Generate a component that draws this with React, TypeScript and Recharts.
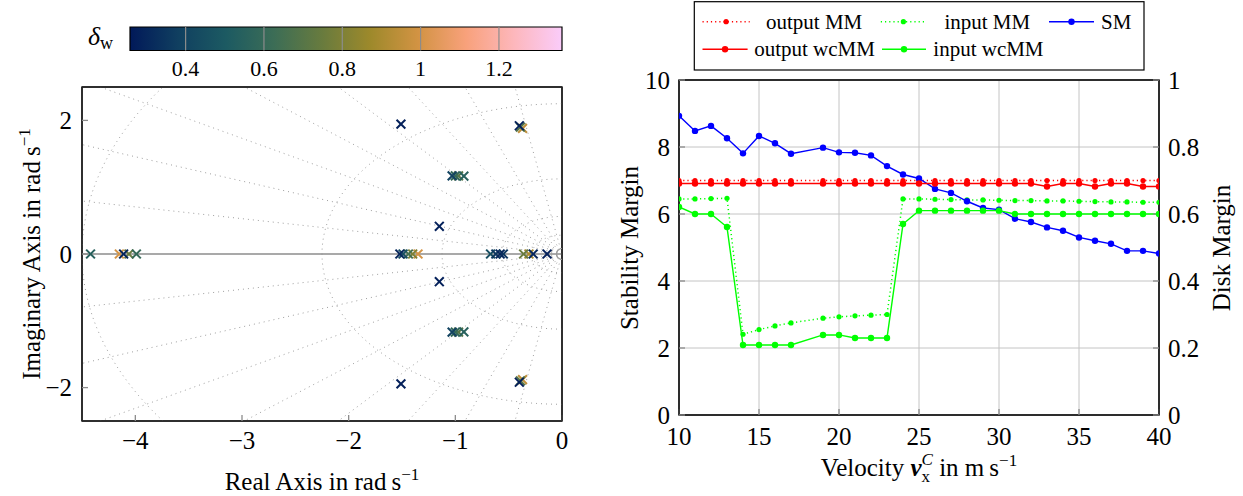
import React from 'react';
import { ComposedChart, Line, Scatter, XAxis, YAxis, CartesianGrid, ReferenceLine, ReferenceArea } from 'recharts';

const SERIF = "'Liberation Serif', 'Times New Roman', serif";

// ---------------- right panel data ----------------
const velocity = [10, 11, 12, 13, 14, 15, 16, 17, 19, 20, 21, 22, 23, 24, 25, 26, 27, 28, 29, 30, 31, 32, 33, 34, 35, 36, 37, 38, 39, 40];
const smValues = [8.93, 8.48, 8.63, 8.26, 7.81, 8.33, 8.11, 7.8, 7.98, 7.84, 7.83, 7.75, 7.43, 7.18, 7.06, 6.75, 6.63, 6.38, 6.18, 6.13, 5.86, 5.76, 5.6, 5.5, 5.3, 5.2, 5.11, 4.9, 4.9, 4.82];
const outputMM = [0.7, 0.7, 0.7, 0.7, 0.7, 0.7, 0.7, 0.7, 0.7, 0.7, 0.7, 0.7, 0.7, 0.7, 0.7, 0.7, 0.7, 0.7, 0.7, 0.7, 0.7, 0.7, 0.7, 0.7, 0.7, 0.7, 0.7, 0.7, 0.7, 0.7];
const inputMM = [0.645, 0.645, 0.646, 0.647, 0.241, 0.255, 0.266, 0.275, 0.289, 0.293, 0.296, 0.298, 0.3, 0.645, 0.645, 0.644, 0.643, 0.642, 0.642, 0.641, 0.64, 0.64, 0.639, 0.639, 0.638, 0.637, 0.636, 0.636, 0.635, 0.635];
const outputWcMM = [0.691, 0.691, 0.691, 0.691, 0.691, 0.691, 0.691, 0.691, 0.691, 0.691, 0.691, 0.691, 0.691, 0.691, 0.691, 0.691, 0.691, 0.691, 0.691, 0.691, 0.691, 0.691, 0.682, 0.691, 0.691, 0.682, 0.691, 0.691, 0.682, 0.682];
const inputWcMM = [0.621, 0.6, 0.6, 0.561, 0.209, 0.209, 0.209, 0.209, 0.239, 0.239, 0.23, 0.23, 0.23, 0.57, 0.61, 0.61, 0.61, 0.61, 0.61, 0.61, 0.6, 0.6, 0.6, 0.6, 0.6, 0.6, 0.6, 0.6, 0.6, 0.6];
const velocityTicks = [10, 15, 20, 25, 30, 35, 40];
const stabilityTicks = [0, 2, 4, 6, 8, 10];
const diskTicks = [0, 0.2, 0.4, 0.6, 0.8, 1];

// ---------------- left panel data ----------------
const realTicks = [-4, -3, -2, -1, 0];
const imagTicks = [-2, 0, 2];
const realRange = [-4.5, 0];
const imagRange = [-2.5, 2.5];
const deltaTicks = [0.4, 0.6, 0.8, 1, 1.2];
const deltaRange = [0.258, 1.361];
const poleRe = [-4.42, -4.15, -4.11, -4.06, -3.99, -1.52, -1.49, -1.44, -1.4, -1.35, -0.67, -0.62, -0.58, -0.55, -0.36, -0.31, -0.27, -0.14,
  -1.51, -1.51, -0.37, -0.37, -0.39, -0.39, -0.4, -0.4, -1.03, -1.03, -1.0, -1.0, -0.97, -0.97, -0.92, -0.92, -1.15, -1.15];
const poleIm = [0, 0, 0, 0, 0, 0, 0, 0, 0, 0, 0, 0, 0, 0, 0, 0, 0, 0,
  1.945, -1.945, 1.88, -1.88, 1.9, -1.9, 1.92, -1.92, 1.17, -1.17, 1.17, -1.17, 1.17, -1.17, 1.165, -1.165, 0.415, -0.415];
const poleDelta = [0.55, 1.0, 0.3, 0.75, 0.6, 0.3, 0.45, 0.65, 0.8, 1.0, 0.45, 0.35, 0.3, 0.35, 0.75, 0.9, 0.3, 0.28,
  0.28, 0.28, 0.95, 0.95, 0.7, 0.7, 0.28, 0.28, 0.4, 0.4, 0.6, 0.6, 0.7, 0.7, 0.55, 0.55, 0.28, 0.28];
const zeroRe = [0];
const zeroIm = [0];
const gridAnglesDeg = [10, 20, 30, 40, 50, 60, 70, 80];
const gridRadii = [4.5, 2.25, 1.125, 0.5625, 0.28125];

// ---------------- styling helpers ----------------
const BATLOW = ['#011959', '#103F60', '#1C5A62', '#3C6D56', '#687B3E', '#9D892B', '#D29343', '#F8A17B', '#FDB7BC', '#FACCFA'];
function hexToRgb(h: string) {
  return [parseInt(h.slice(1, 3), 16), parseInt(h.slice(3, 5), 16), parseInt(h.slice(5, 7), 16)];
}
function batlow(d: number) {
  let t = (d - deltaRange[0]) / (deltaRange[1] - deltaRange[0]);
  t = Math.max(0, Math.min(1, t));
  const p = t * (BATLOW.length - 1);
  const i = Math.min(BATLOW.length - 2, Math.floor(p));
  const f = p - i;
  const a = hexToRgb(BATLOW[i]);
  const b = hexToRgb(BATLOW[i + 1]);
  const c = a.map((v, k) => Math.round(v + (b[k] - v) * f));
  return `rgb(${c[0]},${c[1]},${c[2]})`;
}

const rows = velocity.map((v, i) => ({ v, sm: smValues[i], outMM: outputMM[i], inMM: inputMM[i], outWc: outputWcMM[i], inWc: inputWcMM[i] }));
const poles = poleRe.map((x, i) => ({ x, y: poleIm[i], d: poleDelta[i] })).sort((a, b) => b.d - a.d);
const zeros = zeroRe.map((x, i) => ({ x, y: zeroIm[i] }));
const frameData = [{ x: realRange[0], y: imagRange[0] }, { x: realRange[1], y: imagRange[1] }];
const rayLines = gridAnglesDeg.flatMap((a) => {
  const r = (a * Math.PI) / 180;
  return [
    [{ x: 0, y: 0 }, { x: -7 * Math.cos(r), y: 7 * Math.sin(r) }],
    [{ x: 0, y: 0 }, { x: -7 * Math.cos(r), y: -7 * Math.sin(r) }],
  ];
});
const circleLines = gridRadii.map((rad) => {
  const pts = [];
  for (let k = -90; k <= 90; k += 2) {
    const p = (k * Math.PI) / 180;
    pts.push({ x: -rad * Math.cos(p), y: rad * Math.sin(p) });
  }
  return pts;
});
const barData = [{ x: deltaRange[0], y: 0 }, { x: deltaRange[1], y: 1 }];

const Cross = (props: any) => {
  const { cx, cy, payload } = props;
  if (cx == null || cy == null) return null;
  const s = 4.4;
  return (
    <g stroke={batlow(payload.d)} strokeWidth={2}>
      <line x1={cx - s} y1={cy - s} x2={cx + s} y2={cy + s} />
      <line x1={cx - s} y1={cy + s} x2={cx + s} y2={cy - s} />
    </g>
  );
};
const ZeroMark = (props: any) => {
  const { cx, cy } = props;
  if (cx == null || cy == null) return null;
  return <circle cx={cx} cy={cy} r={5.5} fill="none" stroke="#999" strokeWidth={1.2} />;
};

const tickStyle = { fontSize: 25, fill: '#000', fontFamily: SERIF };
const AX = '#222';
const TK = '#8c8c8c';
const fmt = (v: number) => (v < 0 ? '\u2212' + Math.abs(v) : String(v));

function PoleMap() {
  return (
    <ComposedChart width={600} height={496} margin={{ top: 86, right: 37, bottom: 45, left: 0 }}>
      <XAxis dataKey="x" type="number" domain={realRange} ticks={realTicks} allowDataOverflow tickFormatter={fmt}
        tick={tickStyle} tickSize={-6} tickMargin={16} tickLine={{ stroke: TK, strokeWidth: 1.3 }} axisLine={{ stroke: AX, strokeWidth: 1.5 }} height={30} />
      <XAxis xAxisId="top" orientation="top" dataKey="x" type="number" domain={realRange} ticks={realTicks} allowDataOverflow tick={false}
        tickSize={-6} tickLine={{ stroke: TK, strokeWidth: 1.3 }} axisLine={{ stroke: AX, strokeWidth: 1.5 }} height={1} />
      <YAxis dataKey="y" type="number" domain={imagRange} ticks={imagTicks} allowDataOverflow tickFormatter={fmt}
        tick={tickStyle} tickSize={-6} tickMargin={16} tickLine={{ stroke: TK, strokeWidth: 1.3 }} axisLine={{ stroke: AX, strokeWidth: 1.5 }} width={82} />
      <YAxis yAxisId="r" orientation="right" dataKey="y" type="number" domain={imagRange} ticks={imagTicks} allowDataOverflow tick={false}
        tickSize={-6} tickLine={{ stroke: TK, strokeWidth: 1.3 }} axisLine={{ stroke: AX, strokeWidth: 1.5 }} width={1} />
      {rayLines.map((pts, i) => (
        <Line key={'ray' + i} data={pts} dataKey="y" stroke="#a0a0a0" strokeWidth={1} strokeDasharray="1 4" dot={false} activeDot={false} isAnimationActive={false} />
      ))}
      {circleLines.map((pts, i) => (
        <Line key={'circ' + i} data={pts} dataKey="y" stroke="#a0a0a0" strokeWidth={1} strokeDasharray="1 4" dot={false} activeDot={false} isAnimationActive={false} />
      ))}
      <Line xAxisId="top" yAxisId="r" data={frameData} dataKey="y" stroke="none" dot={false} activeDot={false} isAnimationActive={false} />
      <ReferenceLine y={0} stroke="#8c8c8c" strokeWidth={1.3} />
      <ReferenceArea x1={realRange[0]} x2={realRange[1]} y1={imagRange[0]} y2={imagRange[1]} fill="none" stroke={AX} strokeWidth={1.5} />
      <Scatter data={zeros} shape={ZeroMark} isAnimationActive={false} />
      <Scatter data={poles} shape={Cross} isAnimationActive={false} />
    </ComposedChart>
  );
}

function ColorBar() {
  return (
    <ComposedChart width={600} height={100} data={barData} margin={{ top: 27, right: 38, bottom: 19.5, left: 130 }}>
      <XAxis dataKey="x" type="number" domain={deltaRange} ticks={deltaTicks} allowDataOverflow tick={{ ...tickStyle, fontSize: 22 }}
        tickLine={false} axisLine={false} tickSize={0} tickMargin={10} height={30} />
      <YAxis dataKey="y" type="number" hide domain={[0, 1]} allowDataOverflow />
      <ReferenceArea x1={deltaRange[0]} x2={deltaRange[1]} y1={0} y2={1} fill="url(#batlowGrad)" fillOpacity={1} stroke="#000" strokeWidth={1.2} ifOverflow="visible" />
      {deltaTicks.map((t) => (
        <ReferenceLine key={t} x={t} stroke="#8c8c8c" strokeWidth={1.2} ifOverflow="visible" />
      ))}
    </ComposedChart>
  );
}

function MarginChart() {
  const dotLarge = (c: string) => ({ r: 3.2, fill: c, stroke: c, strokeWidth: 0 });
  const dotSmall = (c: string) => ({ r: 2.6, fill: c, stroke: c, strokeWidth: 0 });
  return (
    <ComposedChart width={643} height={496} data={rows} margin={{ top: 79, right: 0, bottom: 41, left: 0 }}>
      <CartesianGrid yAxisId="sm" stroke="#c4c4c4" strokeWidth={1} />
      <XAxis dataKey="v" type="number" domain={[10, 40]} ticks={velocityTicks} allowDataOverflow tick={tickStyle}
        tickSize={-6} tickMargin={18} tickLine={{ stroke: TK, strokeWidth: 1.3 }} axisLine={{ stroke: AX, strokeWidth: 1.5 }} height={40} />
      <XAxis xAxisId="top" orientation="top" dataKey="v" type="number" domain={[10, 40]} ticks={velocityTicks} allowDataOverflow tick={false}
        tickSize={-6} tickLine={{ stroke: TK, strokeWidth: 1.3 }} axisLine={{ stroke: AX, strokeWidth: 1.5 }} height={1} />
      <YAxis yAxisId="sm" orientation="left" type="number" domain={[0, 10]} ticks={stabilityTicks} allowDataOverflow tick={tickStyle}
        tickSize={-6} tickMargin={15} tickLine={{ stroke: TK, strokeWidth: 1.3 }} axisLine={{ stroke: AX, strokeWidth: 1.5 }} width={79} />
      <YAxis yAxisId="dm" orientation="right" type="number" domain={[0, 1]} ticks={diskTicks} allowDataOverflow tick={tickStyle}
        tickSize={-6} tickMargin={15} tickLine={{ stroke: TK, strokeWidth: 1.3 }} axisLine={{ stroke: AX, strokeWidth: 1.5 }} width={84} />
      <Line xAxisId="top" yAxisId="sm" dataKey="sm" stroke="none" dot={false} activeDot={false} isAnimationActive={false} />
      <Line yAxisId="dm" dataKey="outMM" stroke="#ff0000" strokeWidth={1.5} strokeDasharray="1.2 3" dot={dotSmall('#ff0000')} activeDot={false} isAnimationActive={false} />
      <Line yAxisId="dm" dataKey="inMM" stroke="#00ff00" strokeWidth={1.5} strokeDasharray="1.2 3" dot={dotSmall('#00ff00')} activeDot={false} isAnimationActive={false} />
      <Line yAxisId="sm" dataKey="sm" stroke="#0000ff" strokeWidth={1.4} dot={dotLarge('#0000ff')} activeDot={false} isAnimationActive={false} />
      <Line yAxisId="dm" dataKey="outWc" stroke="#ff0000" strokeWidth={1.6} dot={dotLarge('#ff0000')} activeDot={false} isAnimationActive={false} />
      <Line yAxisId="dm" dataKey="inWc" stroke="#00ff00" strokeWidth={1.4} dot={dotLarge('#00ff00')} activeDot={false} isAnimationActive={false} />
      <ReferenceArea yAxisId="sm" x1={10} x2={40} y1={0} y2={10} fill="none" stroke={AX} strokeWidth={1.5} />
    </ComposedChart>
  );
}

const legendEntries = [
  { label: 'output MM', color: '#ff0000', dashed: true, x0: 702.5, x1: 749.7, tx: 766, row: 0 },
  { label: 'input MM', color: '#00ff00', dashed: true, x0: 880.8, x1: 926, tx: 944.4, row: 0 },
  { label: 'SM', color: '#0000ff', dashed: false, x0: 1049, x1: 1094, tx: 1101, row: 0 },
  { label: 'output wcMM', color: '#ff0000', dashed: false, x0: 702.5, x1: 747.6, tx: 754.2, row: 1 },
  { label: 'input wcMM', color: '#00ff00', dashed: false, x0: 882, x1: 926, tx: 933.3, row: 1 },
];

function Overlay() {
  const rowsY = [21.7, 49.3];
  return (
    <svg width={1243} height={496} style={{ position: 'absolute', left: 0, top: 0, pointerEvents: 'none' }} fontFamily={SERIF}>
      <text x={88} y={45} fontSize={26}>
        <tspan fontStyle="italic">δ</tspan>
        <tspan fontSize={18} dy={4}>w</tspan>
      </text>
      <text x={322} y={490} fontSize={25} textAnchor="middle">
        Real Axis in rad{'\u2009'}s<tspan fontSize={17} dy={-10}>{'\u2212'}1</tspan>
      </text>
      <text transform="translate(40,254) rotate(-90)" fontSize={25} textAnchor="middle">
        Imaginary Axis in rad{'\u2009'}s<tspan fontSize={17} dy={-10}>{'\u2212'}1</tspan>
      </text>
      <text x={919} y={476} fontSize={25} textAnchor="middle">
        Velocity <tspan fontWeight="bold" fontStyle="italic">v</tspan>
        <tspan fontSize={17} dy={6}>x</tspan>
        <tspan fontSize={17} fontStyle="italic" dx={-8.5} dy={-17}>C</tspan>
        <tspan dy={11}> in m{'\u2009'}s</tspan>
        <tspan fontSize={17} dy={-10}>{'\u2212'}1</tspan>
      </text>
      <text transform="translate(638,248) rotate(-90)" fontSize={25} textAnchor="middle">Stability Margin</text>
      <text transform="translate(1230,248) rotate(-90)" fontSize={25} textAnchor="middle">Disk Margin</text>
      <rect x={694.3} y={1.7} width={449.7} height={68.3} fill="#fff" stroke="#000" strokeWidth={1.2} />
      {legendEntries.map((e) => {
        const y = rowsY[e.row];
        return (
          <g key={e.label}>
            <line x1={e.x0} y1={y} x2={e.x1} y2={y} stroke={e.color} strokeWidth={1.5} strokeDasharray={e.dashed ? '1.2 3' : undefined} />
            <circle cx={(e.x0 + e.x1) / 2} cy={y} r={e.dashed ? 2.6 : 3.2} fill={e.color} />
            <text x={e.tx} y={y + 7} fontSize={21}>{e.label}</text>
          </g>
        );
      })}
    </svg>
  );
}

export default function App() {
  return (
    <div style={{ position: 'absolute', left: 0, top: 0, width: 1243, height: 496, background: '#fff', fontFamily: SERIF, overflow: 'hidden' }}>
      <svg width={0} height={0} style={{ position: 'absolute' }}>
        <defs>
          <linearGradient id="batlowGrad" x1="0" y1="0" x2="1" y2="0">
            {BATLOW.map((c, i) => (
              <stop key={i} offset={i / (BATLOW.length - 1)} stopColor={c} />
            ))}
          </linearGradient>
        </defs>
      </svg>
      <div style={{ position: 'absolute', left: 0, top: 0 }}>
        <PoleMap />
      </div>
      <div style={{ position: 'absolute', left: 0, top: 0 }}>
        <ColorBar />
      </div>
      <div style={{ position: 'absolute', left: 600, top: 0 }}>
        <MarginChart />
      </div>
      <Overlay />
    </div>
  );
}
